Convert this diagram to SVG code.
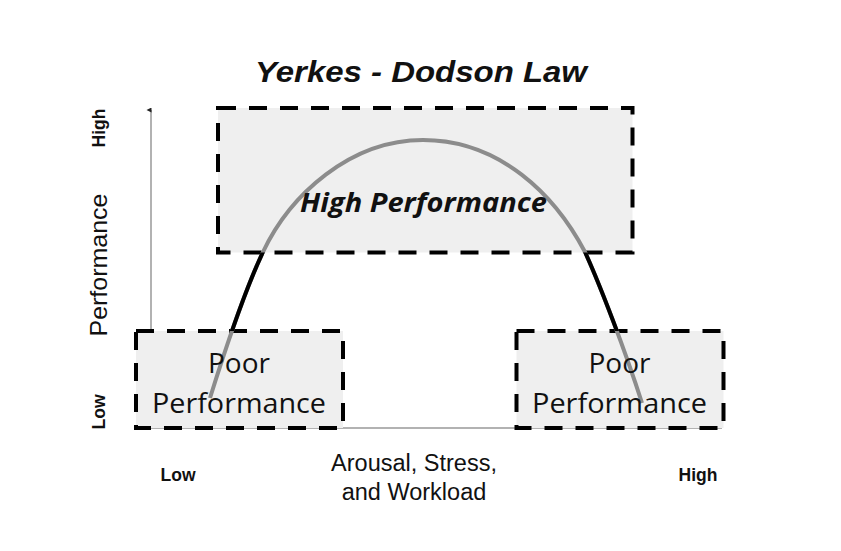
<svg xmlns="http://www.w3.org/2000/svg" width="841" height="551" viewBox="0 0 841 551">
<style>
.box{fill:#efefef;stroke:#000;stroke-width:4;stroke-dasharray:18 13}
.lbl{font-family:"Open Sans","Liberation Sans",sans-serif;fill:#111;text-anchor:middle}
.ax{font-family:"Liberation Sans",Arial,sans-serif;text-anchor:middle;fill:#111}
.b{font-weight:bold}
</style>
<defs>
<marker id="arr" viewBox="0 0 10 10" refX="5" refY="9" markerWidth="5" markerHeight="7" orient="auto" markerUnits="userSpaceOnUse"><path d="M0,10 L5,0 L10,10 Z" fill="#222"/></marker>
<clipPath id="gap"><rect x="0" y="252.5" width="841" height="78.5"/></clipPath>
<path id="curve" d="M210,398 C225,350 245,290 263,252 C290,195 350,140 423,140 C500,140 555,195 585,252 C600,285 625,350 642,403"/>
</defs>
<rect width="841" height="551" fill="#fff"/>
<text x="421" y="82" class="ax b" font-size="30" font-style="italic" textLength="332" lengthAdjust="spacingAndGlyphs">Yerkes - Dodson Law</text>
<g id="axes">
<line x1="151" y1="428" x2="151" y2="110" stroke="#999" stroke-width="1.5" marker-end="url(#arr)"/>
<line x1="151" y1="428" x2="722" y2="428" stroke="#999" stroke-width="1.5"/>
<text transform="translate(107,265) rotate(-90)" class="ax" font-size="24" fill="#222" textLength="143" lengthAdjust="spacingAndGlyphs">Performance</text>
<text transform="translate(105,128) rotate(-90)" class="ax b" font-size="17.5">High</text>
<text transform="translate(105,412) rotate(-90)" class="ax b" font-size="17.5">Low</text>
<text x="178" y="481" class="ax b" font-size="17.5">Low</text>
<text x="698" y="481" class="ax b" font-size="17.5">High</text>
<text x="414" y="471" class="ax" font-size="23.5" fill="#222">Arousal, Stress,</text>
<text x="414" y="500" class="ax" font-size="23.5" fill="#222">and Workload</text>
</g>
<g id="high-performance">
<rect class="box" x="218" y="108" width="414.5" height="144.5"/>
</g>
<g id="poor-left">
<rect class="box" x="136" y="331" width="207" height="97"/>
</g>
<g id="poor-right">
<rect class="box" x="516.5" y="331" width="207" height="97"/>
</g>
<g id="connectors">
<use href="#curve" fill="none" stroke="#8c8c8c" stroke-width="4"/>
<use href="#curve" fill="none" stroke="#000" stroke-width="4" clip-path="url(#gap)"/>
</g>
<text x="423.5" y="212" class="lbl b" font-size="27" font-style="italic" textLength="247" lengthAdjust="spacingAndGlyphs">High Performance</text>
<text x="239" y="373" class="lbl" font-size="27" textLength="62" lengthAdjust="spacingAndGlyphs">Poor</text>
<text x="239" y="413" class="lbl" font-size="27" textLength="174" lengthAdjust="spacingAndGlyphs">Performance</text>
<text x="619.5" y="373" class="lbl" font-size="27" textLength="62" lengthAdjust="spacingAndGlyphs">Poor</text>
<text x="619.5" y="413" class="lbl" font-size="27" textLength="175" lengthAdjust="spacingAndGlyphs">Performance</text>
</svg>
